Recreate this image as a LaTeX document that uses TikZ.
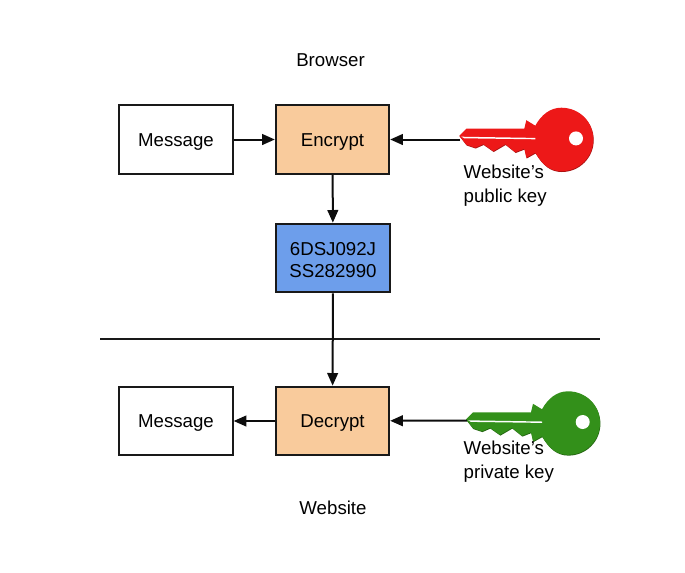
\documentclass[tikz,border=0pt]{standalone}
\usepackage{fontspec}
\setmainfont{Liberation Sans}
\usetikzlibrary{arrows.meta}
\definecolor{boxorange}{HTML}{F9CB9C}
\definecolor{boxblue}{HTML}{6D9EEB}
\definecolor{keyred}{HTML}{ED1818}
\definecolor{keygreen}{HTML}{33901A}
\newcommand{\keyoutline}{(0,0) -- (7,-7) -- (65,-7) -- (67,-15.5) -- (76,-10)
  .. controls (82,-21) and (91,-28) .. (102,-28) .. controls (120,-28) and (134,-14) .. (134,3.7)
  .. controls (134,21) and (120,35.5) .. (102,35.5) .. controls (91,35.5) and (83,29) .. (76,17)
  -- (67,22) -- (65,13) -- (56,16.5) -- (46,8.5) -- (34,15.5) -- (24,8.5) -- (16,12) -- (7,9) -- cycle}
\tikzset{
  pics/cryptokey/.style={code={
    \fill[#1!70!black, shift={(0.4,0.8)}] \keyoutline;
    \fill[#1] \keyoutline;
    \fill[white] (2,1) -- (76,2.2) -- (76,3.6) -- (5,2.6) -- cycle;
    \fill[white] (116.7,2.7) circle[radius=7];
  }}
}
\begin{document}
\begin{tikzpicture}[x=0.75pt, y=-0.75pt,
    every node/.style={font=\fontsize{14}{18}\selectfont},
    box/.style={draw=black!90, line width=1.5pt, minimum width=85pt, minimum height=51.5pt, inner sep=0pt, text height=12pt, text depth=2.2pt},
    link/.style={-{Triangle[length=9.5pt,width=8pt]}, line width=1.5pt, black!95}]
  \useasboundingbox (0,0) rectangle (685,572);

  % Titles
  \node (browser) at (330.5,60) {Browser};
  \node (website) at (333,508) {Website};

  % Boxes
  \node[box] (msgtop) at (176,139.5) {Message};
  \node[box, fill=boxorange] (encrypt) at (332.5,139.5) {Encrypt};
  \node[box, fill=boxblue] (cipher) at (333,258) {};
  \node[align=center, font=\fontsize{14}{16.5}\selectfont] (ciphertext) at (333,260) {6DSJ092J\\SS282990};
  \node[box, fill=boxorange] (decrypt) at (332.5,421) {Decrypt};
  \node[box] (msgbottom) at (176,421) {Message};

  % Keys
  \pic at (459.3,135.7) {cryptokey=keyred};
  \pic at (466,419.3) {cryptokey=keygreen};
  \coordinate (pubtip) at (460,139.5);
  \coordinate (privtip) at (467,420.5);
  \node[anchor=west, align=left] (publabel) at (459,185.5) {Website’s\\public key};
  \node[anchor=west, align=left] (privlabel) at (459,462) {Website’s\\private key};

  % Divider
  \coordinate (divleft) at (100,338.5);
  \coordinate (divright) at (600,338.5);
  \draw[line width=1.5pt, black!90] (divleft) -- (divright);

  % Arrows
  \draw[link] (msgtop) -- (encrypt);
  \draw[link] (pubtip) -- (encrypt);
  \draw[link] (encrypt) -- (cipher);
  \draw[link] (cipher) -- (decrypt);
  \draw[link] (privtip) -- (decrypt);
  \draw[link] (decrypt) -- (msgbottom);
\end{tikzpicture}
\end{document}
